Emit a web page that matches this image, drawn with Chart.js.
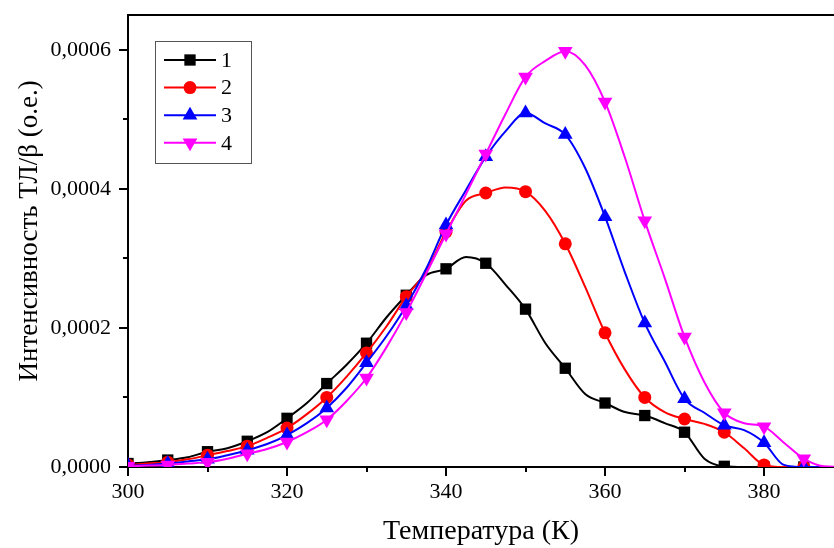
<!DOCTYPE html>
<html>
<head>
<meta charset="utf-8">
<script src="https://cdn.jsdelivr.net/npm/chart.js@4/dist/chart.umd.min.js"></script>
<style>
  html, body { margin: 0; padding: 0; background: #fff; }
  #wrap { width: 834px; height: 548px; }
</style>
</head>
<body>
<div id="wrap"><canvas id="c" width="834" height="548"></canvas></div>
<script>
// Temperature grid (K)
const temps = [300, 302.5, 305, 307.5, 310, 312.5, 315, 317.5, 320, 322.5, 325, 327.5, 330, 332.5, 335, 337.5,
  340, 342.5, 345, 347.5, 350, 352.5, 355, 357.5, 360, 362.5, 365, 367.5, 370, 372.5, 375, 377.5, 380, 382.5, 385, 387.5, 390];

// Intensity TL/beta (a.u.)
const series1 = [0.05e-4, 0.07e-4, 0.10e-4, 0.14e-4, 0.22e-4, 0.27e-4, 0.37e-4, 0.50e-4, 0.70e-4, 0.92e-4, 1.20e-4, 1.47e-4,
  1.78e-4, 2.15e-4, 2.47e-4, 2.76e-4, 2.85e-4, 3.02e-4, 2.93e-4, 2.62e-4, 2.27e-4, 1.78e-4, 1.42e-4, 1.05e-4, 0.92e-4,
  0.79e-4, 0.74e-4, 0.63e-4, 0.50e-4, 0.12e-4, 0.01e-4, 0, 0, 0, 0, 0, 0];
const series2 = [0.03e-4, 0.05e-4, 0.07e-4, 0.11e-4, 0.17e-4, 0.23e-4, 0.30e-4, 0.42e-4, 0.56e-4, 0.76e-4, 1.00e-4, 1.30e-4,
  1.64e-4, 2.02e-4, 2.45e-4, 2.81e-4, 3.38e-4, 3.83e-4, 3.94e-4, 4.02e-4, 3.96e-4, 3.68e-4, 3.21e-4, 2.59e-4, 1.93e-4,
  1.40e-4, 1.00e-4, 0.79e-4, 0.69e-4, 0.62e-4, 0.50e-4, 0.27e-4, 0.03e-4, 0, 0, 0, 0];
const series3 = [0.02e-4, 0.03e-4, 0.05e-4, 0.08e-4, 0.11e-4, 0.17e-4, 0.24e-4, 0.33e-4, 0.46e-4, 0.63e-4, 0.85e-4, 1.14e-4,
  1.50e-4, 1.88e-4, 2.32e-4, 2.85e-4, 3.48e-4, 3.98e-4, 4.46e-4, 4.83e-4, 5.09e-4, 4.94e-4, 4.78e-4, 4.30e-4, 3.60e-4,
  2.80e-4, 2.07e-4, 1.52e-4, 0.98e-4, 0.78e-4, 0.60e-4, 0.53e-4, 0.35e-4, 0.03e-4, 0, 0, 0];
const series4 = [0.01e-4, 0.02e-4, 0.03e-4, 0.05e-4, 0.07e-4, 0.12e-4, 0.19e-4, 0.26e-4, 0.36e-4, 0.50e-4, 0.68e-4, 0.95e-4,
  1.28e-4, 1.72e-4, 2.22e-4, 2.78e-4, 3.35e-4, 3.92e-4, 4.50e-4, 5.08e-4, 5.61e-4, 5.84e-4, 5.98e-4, 5.78e-4, 5.25e-4,
  4.45e-4, 3.54e-4, 2.72e-4, 1.87e-4, 1.22e-4, 0.78e-4, 0.63e-4, 0.58e-4, 0.35e-4, 0.12e-4, 0.01e-4, 0];

const seriesNames = ['1', '2', '3', '4'];
const xTickValues = [300, 320, 340, 360, 380];
const yTickValues = [0, 0.0002, 0.0004, 0.0006];

const FONT = "'Liberation Serif', 'Times New Roman', serif";
const colors = ['#000000', '#ff0000', '#0000ff', '#ff00ff'];
const styles = [
  { pointStyle: 'rect', rotation: 0, radius: 8 },
  { pointStyle: 'circle', rotation: 0, radius: 6.5 },
  { pointStyle: 'triangle', rotation: 0, radius: 8.5 },
  { pointStyle: 'triangle', rotation: 180, radius: 8.5 }
];
const allSeries = [series1, series2, series3, series4];

const datasets = allSeries.map((vals, i) => ({
  label: seriesNames[i],
  data: temps.map((t, k) => ({ x: t, y: vals[k] })),
  borderColor: colors[i],
  backgroundColor: colors[i],
  borderWidth: 2,
  cubicInterpolationMode: 'monotone',
  pointStyle: styles[i].pointStyle,
  rotation: styles[i].rotation,
  pointRadius: ctx => (ctx.raw && ctx.raw.x % 5 === 0 && ctx.raw.x <= 385) ? styles[i].radius : 0,
  pointBorderWidth: 0,
  pointHoverRadius: 0,
  order: 4 - i
}));

const decorPlugin = {
  id: 'decor',
  afterDraw(chart) {
    const { ctx, chartArea: ca, scales } = chart;
    const xs = scales.x, ys = scales.y;
    ctx.save();
    ctx.strokeStyle = '#000';
    ctx.lineWidth = 2;
    // top frame line
    ctx.beginPath();
    ctx.moveTo(ca.left - 1, ca.top);
    ctx.lineTo(ca.right, ca.top);
    ctx.stroke();
    // x ticks (major and minor), outward
    ctx.beginPath();
    for (let v = 300; v <= 388; v += 10) {
      const px = Math.round(xs.getPixelForValue(v));
      const len = (v % 20 === 0) ? 9 : 5;
      ctx.moveTo(px, ca.bottom);
      ctx.lineTo(px, ca.bottom + len);
    }
    // y ticks
    for (let k = 0; k <= 6; k++) {
      const v = k * 0.0001;
      const py = Math.round(ys.getPixelForValue(v));
      const len = (k % 2 === 0) ? 9 : 5;
      ctx.moveTo(ca.left, py);
      ctx.lineTo(ca.left - len, py);
    }
    ctx.stroke();

    // legend
    const lx = 155, ly = 41, lw = 96, lh = 122;
    ctx.lineWidth = 1;
    ctx.strokeStyle = '#555';
    ctx.strokeRect(lx + 0.5, ly + 0.5, lw, lh);
    for (let i = 0; i < 4; i++) {
      const y = 60 + i * 27.6;
      ctx.strokeStyle = colors[i];
      ctx.lineWidth = 2;
      ctx.beginPath();
      ctx.moveTo(164, y);
      ctx.lineTo(216, y);
      ctx.stroke();
      ctx.fillStyle = colors[i];
      Chart.helpers.drawPoint(ctx, {
        pointStyle: styles[i].pointStyle,
        rotation: styles[i].rotation,
        radius: styles[i].radius,
        borderWidth: 0
      }, 190, y);
      ctx.fillStyle = '#000';
      ctx.font = "22px " + FONT;
      ctx.textBaseline = 'middle';
      ctx.textAlign = 'left';
      ctx.fillText(seriesNames[i], 221, y + 1);
    }
    ctx.restore();
  }
};

new Chart(document.getElementById('c'), {
  type: 'line',
  data: { datasets },
  options: {
    responsive: false,
    animation: false,
    devicePixelRatio: 1,
    layout: { autoPadding: false, padding: { top: 15, right: 0, left: 0, bottom: 0 } },
    plugins: { legend: { display: false }, tooltip: { enabled: false } },
    elements: { line: { fill: false } },
    scales: {
      x: {
        type: 'linear',
        min: 300,
        max: 388.8,
        afterFit: s => { s.height = 81; s.paddingLeft = 0; s.paddingRight = 0; },
        afterBuildTicks: s => { s.ticks = xTickValues.map(v => ({ value: v })); },
        ticks: {
          includeBounds: false,
          padding: 12,
          color: '#000',
          font: { family: FONT, size: 22 },
          maxRotation: 0
        },
        grid: { display: false, drawTicks: false },
        border: { display: true, color: '#000', width: 2 },
        title: {
          display: true,
          text: 'Температура (К)',
          color: '#000',
          font: { family: FONT, size: 28 },
          padding: { top: 0, bottom: 0 }
        }
      },
      y: {
        type: 'linear',
        min: 0,
        max: 0.00065,
        afterFit: s => { s.width = 128; s.paddingTop = 0; s.paddingBottom = 0; },
        afterBuildTicks: s => { s.ticks = yTickValues.map(v => ({ value: v })); },
        ticks: {
          includeBounds: false,
          padding: 17,
          color: '#000',
          font: { family: FONT, size: 22 },
          callback: v => Number(v).toFixed(4).replace('.', ',')
        },
        grid: { display: false, drawTicks: false },
        border: { display: true, color: '#000', width: 2 },
        title: {
          display: true,
          text: '\u00A0\u00A0\u00A0Интенсивность ТЛ/β (о.е.)',
          color: '#000',
          font: { family: FONT, size: 27 },
          padding: { top: 14, bottom: 0 }
        }
      }
    }
  },
  plugins: [decorPlugin]
});
</script>
</body>
</html>
